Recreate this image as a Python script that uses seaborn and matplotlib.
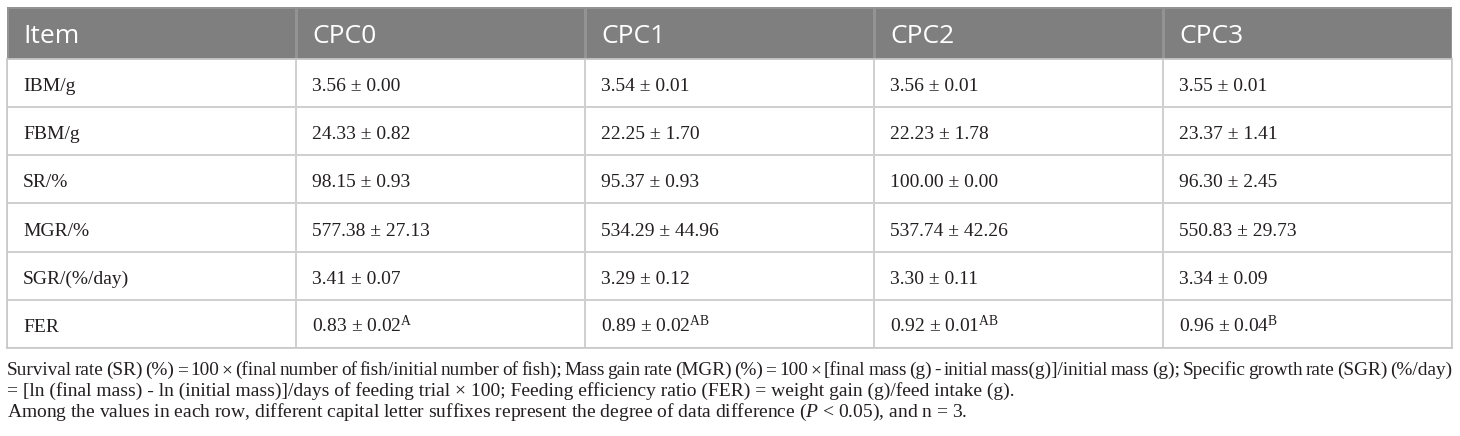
import numpy as np
import pandas as pd
import seaborn as sns
import matplotlib.pyplot as plt
from matplotlib.colors import ListedColormap

# Table content
groups = ["CPC0", "CPC1", "CPC2", "CPC3"]
items = ["IBM/g", "FBM/g", "SR/%", "MGR/%", "SGR/(%/day)", "FER"]
cpc0_mean = [3.56, 24.33, 98.15, 577.38, 3.41, 0.83]
cpc0_sd = [0.00, 0.82, 0.93, 27.13, 0.07, 0.02]
cpc1_mean = [3.54, 22.25, 95.37, 534.29, 3.29, 0.89]
cpc1_sd = [0.01, 1.70, 0.93, 44.96, 0.12, 0.02]
cpc2_mean = [3.56, 22.23, 100.00, 537.74, 3.30, 0.92]
cpc2_sd = [0.01, 1.78, 0.00, 42.26, 0.11, 0.01]
cpc3_mean = [3.55, 23.37, 96.30, 550.83, 3.34, 0.96]
cpc3_sd = [0.01, 1.41, 2.45, 29.73, 0.09, 0.04]
fer_letters = ["A", "AB", "AB", "B"]

notes = [
    "Survival rate (SR) (%) = 100 × (final number of fish/initial number of fish); "
    "Mass gain rate (MGR) (%) = 100 × [final mass (g) - initial mass(g)]/initial mass (g); "
    "Specific growth rate (SGR) (%/day)",
    "= [ln (final mass) - ln (initial mass)]/days of feeding trial × 100; "
    "Feeding efficiency ratio (FER) = weight gain (g)/feed intake (g).",
    "Among the values in each row, different capital letter suffixes represent the degree "
    r"of data difference ($\mathit{P}$ < 0.05), and n = 3.",
]

# cell strings
means = [cpc0_mean, cpc1_mean, cpc2_mean, cpc3_mean]
sds = [cpc0_sd, cpc1_sd, cpc2_sd, cpc3_sd]
cells = pd.DataFrame(index=items, columns=groups, dtype=object)
for g, m, s in zip(groups, means, sds):
    cells[g] = [f"{a:.2f} ± {b:.2f}" for a, b in zip(m, s)]
cells.loc["FER"] = [c + r"$^{\mathrm{%s}}$" % l
                    for c, l in zip(cells.loc["FER"], fer_letters)]

sns.set_style("white")
plt.rcParams["font.family"] = ["Liberation Serif", "DejaVu Serif"]
plt.rcParams["mathtext.fontset"] = "custom"
plt.rcParams["mathtext.rm"] = "Liberation Serif"
plt.rcParams["mathtext.it"] = "Liberation Serif:italic"

W, H = 1460, 436
fig = plt.figure(figsize=(W / 100, H / 100), dpi=100)
ink = "#231f20"


def px_axes(x, y, w, h):
    return fig.add_axes([x / W, 1 - (y + h) / H, w / W, h / H])


TL, TW = 7, 1445
col_px = TW / 5
pad = 16 / col_px
body_size = 14

# header band
ax_head = px_axes(TL, 7, TW, 52)
sns.heatmap(np.zeros((1, 5)), ax=ax_head, cmap=ListedColormap(["#7f7f7f"]),
            cbar=False, linewidths=0.8, linecolor="#939393",
            xticklabels=False, yticklabels=False)
for j, h in enumerate(["Item"] + groups):
    ax_head.text(j + pad, 36 / 52, h, color="white", family="Open Sans",
                 fontsize=19, va="baseline", ha="left")

# body grid
ax_body = px_axes(TL, 59, TW, 289)
sns.heatmap(np.zeros((len(items), 5)), ax=ax_body, cmap=ListedColormap(["white"]),
            cbar=False, linewidths=1.2, linecolor="#d0d0d0",
            xticklabels=False, yticklabels=False)
for sp in ax_body.spines.values():
    sp.set_visible(True)
    sp.set_color("#c8c8c8")
    sp.set_linewidth(1.2)

for i, item in enumerate(items):
    ax_body.text(pad, i + 32 / 48, item, color=ink, fontsize=body_size,
                 va="baseline", ha="left")
    for j, g in enumerate(groups):
        ax_body.text(j + 1 + pad, i + 32 / 48, cells.loc[item, g], color=ink,
                     fontsize=body_size, va="baseline", ha="left")


# footnotes; the first line is justified to the table width
def justified(y, s, size, x0=TL, x1=TL + TW):
    r = fig.canvas.get_renderer()
    words = s.split(" ")
    while True:
        widths = []
        for w in words:
            t = fig.text(0, 0, w, fontsize=size)
            widths.append(t.get_window_extent(r).width)
            t.remove()
        gap = (x1 - x0 - sum(widths)) / (len(words) - 1)
        if gap >= 2.5:
            break
        size -= 0.1
    x = x0
    for w, wd in zip(words, widths):
        fig.text(x / W, 1 - y / H, w, fontsize=size, color=ink, va="baseline")
        x += wd + gap


note_size = 14
justified(375, notes[0], note_size)
fig.text(TL / W, 1 - 396 / H, notes[1], fontsize=note_size, color=ink, va="baseline")
fig.text(TL / W, 1 - 417 / H, notes[2], fontsize=note_size, color=ink, va="baseline")

fig.savefig("out.png", dpi=100)
